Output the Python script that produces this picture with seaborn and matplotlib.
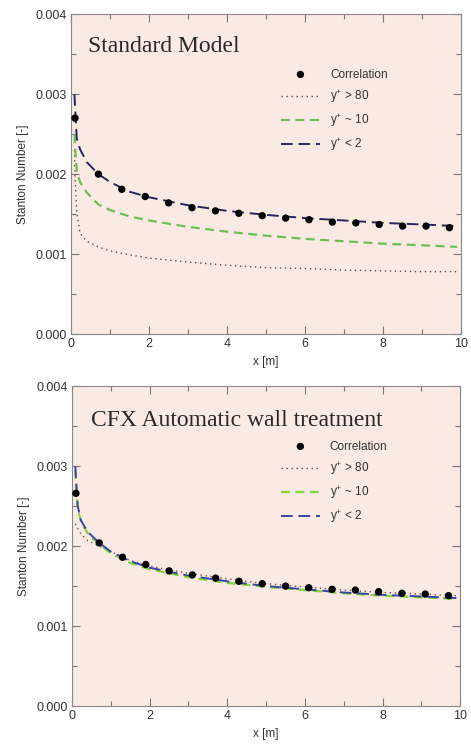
import matplotlib
matplotlib.use("Agg")
import matplotlib.pyplot as plt
import seaborn as sns
import pandas as pd
from matplotlib.ticker import MultipleLocator

# ---- data ----
corr_x = [0.1, 0.7, 1.3, 1.9, 2.5, 3.1, 3.7, 4.3, 4.9, 5.5, 6.1, 6.7, 7.3, 7.9, 8.5, 9.1, 9.7]
corr_top = [0.00270, 0.00200, 0.00181, 0.00172, 0.00164, 0.00158, 0.00154, 0.00151, 0.00148,
            0.00145, 0.00143, 0.00140, 0.00139, 0.00137, 0.00135, 0.00135, 0.00133]
corr_bot = [0.00266, 0.00204, 0.00186, 0.00177, 0.00169, 0.00164, 0.00160, 0.00156, 0.00153,
            0.00150, 0.00148, 0.00146, 0.00145, 0.00143, 0.00141, 0.00140, 0.00138]

line_x = [0.085, 0.1, 0.146, 0.23, 0.4, 0.7, 1.0, 1.5, 2, 3, 4, 5, 6, 7, 8, 9, 9.9]

top_y80 = [0.00230, 0.00197, 0.00151, 0.00126, 0.00116, 0.00109, 0.00104, 0.00099, 0.00095,
           0.00090, 0.00086, 0.00083, 0.00082, 0.00080, 0.00079, 0.00078, 0.00078]
top_y10 = [0.00250, 0.00235, 0.00203, 0.00190, 0.00177, 0.00162, 0.00155, 0.00147, 0.00142,
           0.00134, 0.00128, 0.00123, 0.00119, 0.00116, 0.00113, 0.00111, 0.00109]
top_y2 = [0.00300, 0.00285, 0.00244, 0.00231, 0.00215, 0.00200, 0.00190, 0.00178, 0.00171,
          0.00161, 0.00154, 0.00149, 0.00145, 0.00142, 0.00139, 0.00137, 0.00135]

bot_y80 = [0.00228, 0.00226, 0.00222, 0.00215, 0.00207, 0.00200, 0.00193, 0.00182, 0.00175,
           0.00166, 0.00159, 0.00153, 0.00149, 0.00145, 0.00142, 0.00140, 0.00138]
bot_y10 = [0.00295, 0.00280, 0.00247, 0.00230, 0.00216, 0.00202, 0.00191, 0.00179, 0.00171,
           0.00161, 0.00154, 0.00149, 0.00145, 0.00141, 0.00138, 0.00136, 0.00134]
bot_y2 = [0.00300, 0.00285, 0.00250, 0.00232, 0.00218, 0.00204, 0.00193, 0.00181, 0.00173,
          0.00163, 0.00156, 0.00150, 0.00146, 0.00142, 0.00139, 0.00137, 0.00135]

titles = ["Standard Model", "CFX Automatic wall treatment"]
labels = ["Correlation", r"y$^{+}$ > 80", r"y$^{+}$ ~ 10", r"y$^{+}$ < 2"]

sns.set_style("ticks")
plt.rcParams["font.family"] = ["Liberation Sans", "DejaVu Sans"]
plt.rcParams["mathtext.default"] = "regular"

fig = plt.figure(figsize=(4.71, 7.44), dpi=100)
ax_top = fig.add_axes([0.151, 0.551, 0.828, 0.430])
ax_bot = fig.add_axes([0.153, 0.051, 0.824, 0.430])

bg = "#FBEAE4"
panels = [
    (ax_top, corr_top, top_y80, top_y10, top_y2, "#5a4a4a", "#6cbf55", "#26265e"),
    (ax_bot, corr_bot, bot_y80, bot_y10, bot_y2, "#7a4a4a", "#84d43c", "#3548a0"),
]

for i, (ax, corr, y80, y10, y2, c80, c10, c2) in enumerate(panels):
    ax.set_facecolor(bg)
    sns.lineplot(x=line_x, y=y80, ax=ax, color=c80, linestyle=(0, (1, 2.6)), linewidth=1.0,
                 label=labels[1])
    sns.lineplot(x=line_x, y=y10, ax=ax, color=c10, linestyle=(0, (4, 2.5)), linewidth=1.6,
                 label=labels[2])
    sns.lineplot(x=line_x, y=y2, ax=ax, color=c2, linestyle=(0, (6, 3)), linewidth=1.4,
                 label=labels[3])
    sns.scatterplot(x=corr_x, y=corr, ax=ax, color="black", s=28, edgecolor="none",
                    zorder=5, label=labels[0])
    ax.set_xlim(0, 10)
    ax.set_ylim(0, 0.004)
    ax.xaxis.set_major_locator(MultipleLocator(2))
    ax.xaxis.set_minor_locator(MultipleLocator(1))
    ax.yaxis.set_major_locator(MultipleLocator(0.001))
    ax.yaxis.set_minor_locator(MultipleLocator(0.0005))
    ax.yaxis.set_major_formatter(matplotlib.ticker.FormatStrFormatter("%.3f"))
    ax.tick_params(which="both", direction="in", top=True, right=True, colors="#777777",
                   labelcolor="#333333", labelsize=9, width=0.8)
    ax.tick_params(which="major", length=6, pad=3)
    ax.tick_params(which="minor", length=3.5)
    for sp in ax.spines.values():
        sp.set_color("#888888")
        sp.set_linewidth(0.8)
    ax.set_xlabel("x [m]", fontsize=8.5, color="#333333", labelpad=4)
    ax.set_ylabel("Stanton Number [-]", fontsize=8.5, color="#333333", labelpad=5)
    ax.text(0.42 if i == 0 else 0.5, 0.0036 if i == 0 else 0.00357, titles[i],
            family="Liberation Serif", fontsize=17, color="#2a2a2a",
            va="center", ha="left")
    h, l = ax.get_legend_handles_labels()
    order = [3, 0, 1, 2]
    ax.legend([h[k] for k in order], [l[k] for k in order], loc="upper left",
              bbox_to_anchor=(0.538, 0.83), frameon=False, fontsize=8.5,
              handlelength=3.3, handletextpad=0.85, labelspacing=0.62,
              borderpad=0, borderaxespad=0, labelcolor="#333333")

fig.savefig("out.png", dpi=100, facecolor="white")
